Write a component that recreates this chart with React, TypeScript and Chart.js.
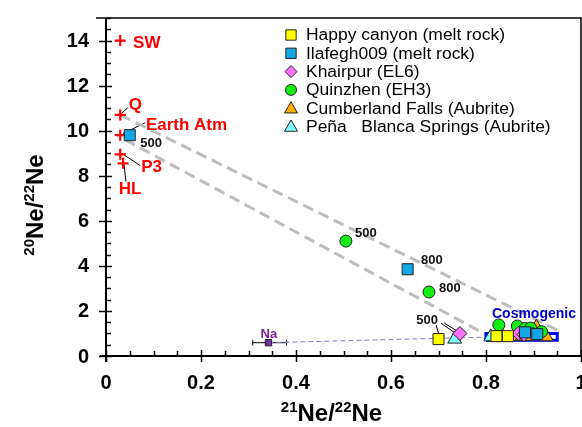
import React, { useEffect, useRef } from 'react';
import { Chart, registerables } from 'chart.js';
Chart.register(...registerables);

const FONT = '"Liberation Sans", Arial, Helvetica, sans-serif';

// ---- data: [21Ne/22Ne, 20Ne/22Ne] ----
const seriesNames = [
  'Happy canyon (melt rock)',
  'Ilafegh009 (melt rock)',
  'Khairpur (EL6)',
  'Quinzhen (EH3)',
  'Cumberland Falls (Aubrite)',
  'Peña   Blanca Springs (Aubrite)',
];
const happyCanyon = [[0.70, 0.75], [0.822, 0.88], [0.846, 0.88]];
const ilafegh009 = [[0.05, 9.8], [0.635, 3.85], [0.882, 1.05], [0.908, 0.97]];
const khairpur = [[0.745, 1.0], [0.868, 1.0], [0.898, 0.98], [0.88, 0.95]];
const quinzhen = [[0.505, 5.1], [0.68, 2.84], [0.827, 1.38], [0.866, 1.33], [0.882, 1.22], [0.894, 1.24], [0.917, 1.08]];
const cumberland = [[0.865, 0.86], [0.876, 0.86], [0.887, 0.86], [0.906, 1.28], [0.927, 0.85]];
const penaBlanca = [[0.734, 0.75], [0.81, 0.85], [0.835, 0.85]];

// noble gas components
const componentNames = ['SW', 'Q', 'Earth Atm', 'P3', 'HL'];
const componentPts = [[0.03, 14.0], [0.03, 10.7], [0.03, 9.8], [0.03, 8.95], [0.036, 8.55]];
const componentLabelPos = [[0.057, 13.9], [0.048, 11.15], [0.084, 10.3], [0.074, 8.4], [0.027, 7.43]];

// temperature step labels (°C)
const tempLabels = ['500', '500', '800', '800', '500'];
const tempLabelPos = [[0.095, 9.47], [0.547, 5.49], [0.686, 4.29], [0.724, 3.05], [0.676, 1.64]];

// leader lines
const leaderFrom = [[0.032, 10.75], [0.036, 9.87], [0.034, 8.98], [0.038, 8.5], [0.695, 1.37], [0.705, 1.46], [0.712, 1.46]];
const leaderTo = [[0.046, 11.02], [0.082, 10.35], [0.072, 8.45], [0.042, 7.74], [0.701, 0.93], [0.735, 1.02], [0.743, 1.06]];

// mixing lines
const upperLine = [[0.03, 10.7], [0.95, 1.15]];
const lowerLine = [[0.04, 9.6], [0.80, 0.95]];

// Na production
const naPoint = [[0.342, 0.59]];
const naErrX = [0.309, 0.38];
const naLine = [[0.342, 0.59], [0.82, 0.85]];
const naLabelPos = [0.343, 1.02];

// cosmogenic box
const cosmoBoxX = [0.80, 0.95];
const cosmoBoxY = [0.70, 1.0];
const cosmoLabelPos = [0.901, 1.9];

// axes
const xTicks = [0, 0.2, 0.4, 0.6, 0.8, 1];
const xTickLabels = ['0', '0.2', '0.4', '0.6', '0.8', '1'];
const yTicks = [0, 2, 4, 6, 8, 10, 12, 14];
const yTickLabels = ['0', '2', '4', '6', '8', '10', '12', '14'];

const toPts = (a: number[][]) => a.map(([x, y]) => ({ x, y }));

function txt(ctx: CanvasRenderingContext2D, s: string, x: number, y: number, font: string, color: string,
  align: CanvasTextAlign = 'left', baseline: CanvasTextBaseline = 'middle', stretch = 1) {
  ctx.save();
  ctx.font = font;
  ctx.fillStyle = color;
  ctx.textAlign = align;
  ctx.textBaseline = baseline;
  ctx.translate(x, y);
  ctx.scale(stretch, 1);
  ctx.fillText(s, 0, 0);
  ctx.restore();
}

function drawTitle(ctx: CanvasRenderingContext2D, a: string, b: string) {
  // draws  ^a Ne / ^b Ne  starting at (0,0) baseline
  const big = `bold 24px ${FONT}`;
  const sup = `bold 15px ${FONT}`;
  let cx = 0;
  const part = (s: string, f: string, dy: number) => {
    ctx.font = f;
    ctx.fillText(s, cx, dy);
    cx += ctx.measureText(s).width;
  };
  part(a, sup, -9);
  part('Ne/', big, 0);
  part(b, sup, -9);
  part('Ne', big, 0);
  return cx;
}

function titleWidth(ctx: CanvasRenderingContext2D) {
  ctx.save();
  ctx.font = `bold 15px ${FONT}`;
  const w1 = ctx.measureText('21').width * 2;
  ctx.font = `bold 24px ${FONT}`;
  const w2 = ctx.measureText('Ne/').width + ctx.measureText('Ne').width;
  ctx.restore();
  return w1 + w2;
}

function marker(ctx: CanvasRenderingContext2D, style: string, x: number, y: number, r: number, fill: string) {
  ctx.save();
  ctx.fillStyle = fill;
  ctx.strokeStyle = '#222';
  ctx.lineWidth = 1;
  ctx.beginPath();
  if (style === 'rect') {
    const s = r * Math.SQRT1_2;
    ctx.rect(x - s, y - s, 2 * s, 2 * s);
  } else if (style === 'rectRot') {
    ctx.moveTo(x, y - r); ctx.lineTo(x + r, y); ctx.lineTo(x, y + r); ctx.lineTo(x - r, y); ctx.closePath();
  } else if (style === 'circle') {
    ctx.arc(x, y, r, 0, Math.PI * 2);
  } else if (style === 'triangle') {
    ctx.moveTo(x, y - r);
    ctx.lineTo(x + r * Math.sin(Math.PI * 2 / 3), y - r * Math.cos(Math.PI * 2 / 3));
    ctx.lineTo(x + r * Math.sin(Math.PI * 4 / 3), y - r * Math.cos(Math.PI * 4 / 3));
    ctx.closePath();
  }
  ctx.fill();
  ctx.stroke();
  ctx.restore();
}

const seriesStyles = ['rect', 'rect', 'rectRot', 'circle', 'triangle', 'triangle'];
const seriesColors = ['#ffff00', '#12a8e6', '#ff70ff', '#11ee11', '#ffb000', '#80ffff'];
const seriesRadius = [7.8, 7.8, 7, 6, 8, 8];
const seriesData = [happyCanyon, ilafegh009, khairpur, quinzhen, cumberland, penaBlanca];

const decor = {
  id: 'decor',
  beforeDatasetsDraw(chart: any) {
    const { ctx, chartArea: a, scales } = chart;
    const x = scales.x, y = scales.y;
    ctx.save();
    ctx.strokeStyle = '#000';
    // frame top / right
    ctx.lineWidth = 1.5;
    ctx.beginPath();
    ctx.moveTo(a.left - 10, a.top);
    ctx.lineTo(a.right, a.top);
    ctx.lineTo(a.right, a.bottom);
    ctx.stroke();
    // axes
    ctx.lineWidth = 2;
    ctx.beginPath();
    ctx.moveTo(a.left, a.top);
    ctx.lineTo(a.left, a.bottom + 6);
    ctx.moveTo(a.left - 6, a.bottom);
    ctx.lineTo(a.right, a.bottom);
    ctx.stroke();
    // y ticks
    ctx.lineWidth = 1.5;
    ctx.beginPath();
    for (let i = 0; i <= 30; i++) {
      const v = i * 0.5;
      const py = Math.round(y.getPixelForValue(v)) + 0.5;
      if (i % 4 === 0) { ctx.moveTo(a.left - 7, py); ctx.lineTo(a.left + 6, py); }
      else { ctx.moveTo(a.left, py); ctx.lineTo(a.left + 5, py); }
    }
    // x ticks
    for (let i = 0; i <= 20; i++) {
      const v = i * 0.05;
      const px = Math.round(x.getPixelForValue(v)) + 0.5;
      if (i % 4 === 0) { ctx.moveTo(px, a.bottom - 6); ctx.lineTo(px, a.bottom + 6); }
      else { ctx.moveTo(px, a.bottom - 5); ctx.lineTo(px, a.bottom); }
    }
    ctx.stroke();
    // tick labels
    xTicks.forEach((v, i) => txt(ctx, xTickLabels[i], x.getPixelForValue(v), a.bottom + 27, `bold 20px ${FONT}`, '#000', 'center'));
    yTicks.forEach((v, i) => txt(ctx, yTickLabels[i], a.left - 17, y.getPixelForValue(v) + 1, `bold 20px ${FONT}`, '#000', 'right'));

    // Na error bar
    const ny = y.getPixelForValue(naPoint[0][1]);
    const x0 = x.getPixelForValue(naErrX[0]);
    const x1 = x.getPixelForValue(naErrX[1]);
    ctx.lineWidth = 1;
    ctx.strokeStyle = '#000';
    ctx.beginPath();
    ctx.moveTo(x0, ny); ctx.lineTo(x1, ny);
    ctx.moveTo(x0, ny - 3); ctx.lineTo(x0, ny + 3);
    ctx.moveTo(x1, ny - 3); ctx.lineTo(x1, ny + 3);
    ctx.stroke();

    // leader lines
    ctx.lineWidth = 1;
    ctx.strokeStyle = '#000';
    ctx.beginPath();
    leaderFrom.forEach((p, i) => {
      ctx.moveTo(x.getPixelForValue(p[0]), y.getPixelForValue(p[1]));
      ctx.lineTo(x.getPixelForValue(leaderTo[i][0]), y.getPixelForValue(leaderTo[i][1]));
    });
    ctx.stroke();
    ctx.restore();
  },
  afterDatasetsDraw(chart: any) {
    const { ctx, chartArea: a, scales } = chart;
    const x = scales.x, y = scales.y;
    ctx.save();
    // component labels
    componentNames.forEach((n, i) => {
      txt(ctx, n, x.getPixelForValue(componentLabelPos[i][0]), y.getPixelForValue(componentLabelPos[i][1]) + 1,
        `bold 17px ${FONT}`, '#ff0000', 'left');
    });
    tempLabels.forEach((n, i) => {
      txt(ctx, n, x.getPixelForValue(tempLabelPos[i][0]), y.getPixelForValue(tempLabelPos[i][1]) + 1,
        `bold 13px ${FONT}`, '#111', 'center');
    });
    txt(ctx, 'Na', x.getPixelForValue(naLabelPos[0]), y.getPixelForValue(naLabelPos[1]) + 1, `bold 13px ${FONT}`, '#7a1fa0', 'center');
    txt(ctx, 'Cosmogenic', x.getPixelForValue(cosmoLabelPos[0]), y.getPixelForValue(cosmoLabelPos[1]) + 1, `bold 14px ${FONT}`, '#0000cc', 'center');

    // legend
    ctx.font = `16px ${FONT}`;
    const stretch = 199 / ctx.measureText(seriesNames[0]).width;
    seriesNames.forEach((n, i) => {
      const cy = 35 + i * 18.3;
      const r = seriesStyles[i] === 'circle' ? 5.5 : seriesStyles[i] === 'triangle' ? 7.5 : seriesStyles[i] === 'rectRot' ? 6 : 7.3;
      marker(ctx, seriesStyles[i], 291, seriesStyles[i] === 'triangle' ? cy + 1 : cy, r, seriesColors[i]);
      txt(ctx, n, 306, cy + 1, `16px ${FONT}`, '#000', 'left', 'middle', stretch);
    });

    // axis titles
    ctx.fillStyle = '#000';
    ctx.textAlign = 'left';
    ctx.textBaseline = 'alphabetic';
    const tw = titleWidth(ctx);
    ctx.save();
    ctx.translate((a.left + a.right) / 2 - tw / 2 - 12, 421);
    drawTitle(ctx, '21', '22');
    ctx.restore();
    ctx.save();
    ctx.translate(43, 205 + tw / 2);
    ctx.rotate(-Math.PI / 2);
    drawTitle(ctx, '20', '22');
    ctx.restore();
    ctx.restore();
  },
};

export default function App() {
  const ref = useRef<HTMLCanvasElement | null>(null);
  useEffect(() => {
    if (!ref.current) return;
    const datasets: any[] = [];
    seriesNames.forEach((n, i) => {
      datasets.push({
        label: n,
        data: toPts(seriesData[i]),
        pointStyle: seriesStyles[i],
        pointRadius: seriesRadius[i],
        pointBackgroundColor: seriesColors[i],
        pointBorderColor: '#222',
        pointBorderWidth: 1,
        order: 1,
      });
    });
    datasets.push({
      label: 'components',
      data: toPts(componentPts),
      pointStyle: 'cross',
      pointRadius: 5.5,
      pointBorderColor: '#ff0000',
      pointBorderWidth: 2.2,
      order: 1,
    });
    datasets.push({
      label: 'Na',
      data: toPts(naPoint),
      pointStyle: 'rect',
      pointRadius: 4.5,
      pointBackgroundColor: '#7030a0',
      pointBorderColor: '#222',
      pointBorderWidth: 1,
      order: 1,
    });
    const lineDs = (label: string, pts: number[][], color: string, width: number, dash: number[], order: number) => ({
      label, data: toPts(pts), showLine: true, pointRadius: 0, borderColor: color, borderWidth: width,
      borderDash: dash, fill: false, tension: 0, order,
    });
    datasets.push(lineDs('upper', upperLine, '#bdbdbd', 3, [11, 6], 10));
    datasets.push(lineDs('lower', lowerLine, '#bdbdbd', 3, [11, 6], 10));
    datasets.push(lineDs('naLine', naLine, '#7c7cc0', 1, [5, 3], 9));
    datasets.push(lineDs('cosmo', [
      [cosmoBoxX[0], cosmoBoxY[0]], [cosmoBoxX[1], cosmoBoxY[0]], [cosmoBoxX[1], cosmoBoxY[1]],
      [cosmoBoxX[0], cosmoBoxY[1]], [cosmoBoxX[0], cosmoBoxY[0]],
    ], '#0000ff', 3, [], 8));

    const chart = new Chart(ref.current, {
      type: 'scatter',
      data: { datasets },
      options: {
        responsive: false,
        animation: false,
        devicePixelRatio: 1,
        layout: { padding: { left: 106, right: 19, top: 18, bottom: 71 } },
        plugins: { legend: { display: false }, tooltip: { enabled: false } },
        scales: {
          x: { type: 'linear', min: 0, max: 1, display: false },
          y: { type: 'linear', min: 0, max: 15, display: false },
        },
      },
      plugins: [decor],
    } as any);
    return () => chart.destroy();
  }, []);
  return (
    <div style={{ position: 'fixed', left: 0, top: 0, width: 582, height: 427, overflow: 'hidden', background: '#fff' }}>
      <canvas ref={ref} width={600} height={427} style={{ display: 'block' }} />
    </div>
  );
}
